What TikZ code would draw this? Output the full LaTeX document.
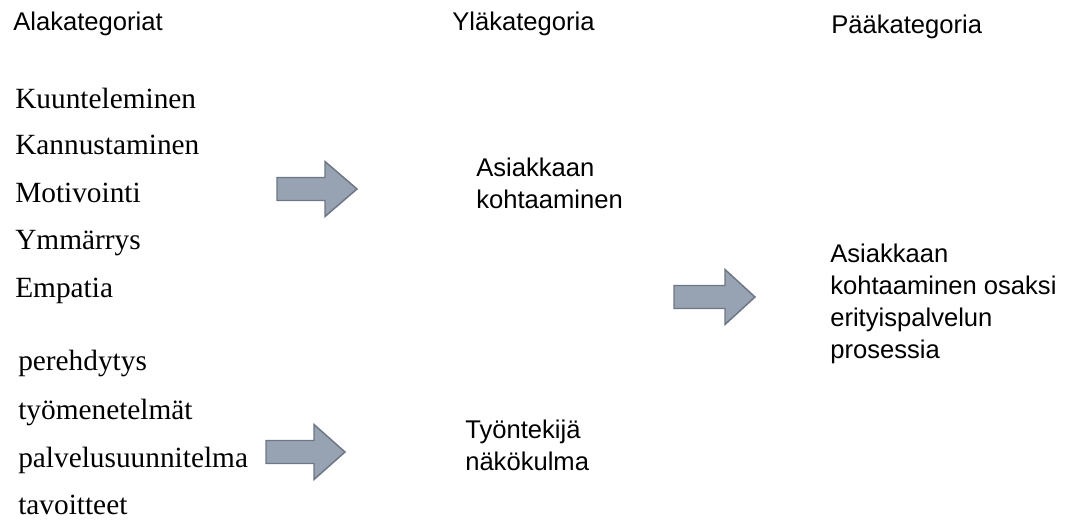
\documentclass[tikz,border=0pt]{standalone}
\usepackage{fontspec}
\setmainfont{Liberation Serif}
\setsansfont{Liberation Sans}
\usetikzlibrary{positioning, calc}
\definecolor{arrowfill}{RGB}{151, 163, 179}
\definecolor{arrowline}{RGB}{108, 118, 132}

\tikzset{
  head/.style={anchor=base west, font=\sffamily\fontsize{19.2}{24}\selectfont, inner sep=0pt},
  item/.style={anchor=base west, font=\fontsize{22}{26}\selectfont, inner sep=0pt},
  category/.style={anchor=base west, font=\sffamily\fontsize{19.2}{24}\selectfont, inner sep=0pt, align=left},
  blockarrow/.style={draw=arrowline, fill=arrowfill, line width=1.1pt, line join=miter}
}
% block arrow: #1 = left middle point, #2 = shaft length, #3 = head length
\newcommand{\blockarrow}[3]{%
  \draw[blockarrow] ($#1+(0,-11.5)$) -- ++(#2,0) -- ++(0,-16) -- ++(#3,27.5)
    -- ++(-#3,27.5) -- ++(0,-16) -- ++(-#2,0) -- cycle;}

\begin{document}
\begin{tikzpicture}[x=0.75pt, y=-0.75pt]
        \useasboundingbox (0,0) rectangle (1065,522);

        % Headings
        \node[head] (sub) at (13,30) {Alakategoriat};
        \node[head] (upper) at (452,30) {Yläkategoria};
        \node[head] (main) at (831,33) {Pääkategoria};

        % Subcategories, first group
        \node[item] (k1) at (15,108) {Kuunteleminen};
        \node[item] (k2) at (15,154) {Kannustaminen};
        \node[item] (k3) at (15,202) {Motivointi};
        \node[item] (k4) at (15,249) {Ymmärrys};
        \node[item] (k5) at (15,297) {Empatia};

        % Subcategories, second group
        \node[item] (t1) at (18,370) {perehdytys};
        \node[item] (t2) at (18,419) {työmenetelmät};
        \node[item] (t3) at (18,467) {palvelusuunnitelma};
        \node[item] (t4) at (18,514) {tavoitteet};

        % Upper categories (base = last line)
        \node[category] (meet) at (476,208) {Asiakkaan\\kohtaaminen};
        \node[category] (worker) at (465,470) {Työntekijä\\näkökulma};

        % Main category
        \node[category] (process) at (830,358) {Asiakkaan\\kohtaaminen osaksi\\erityispalvelun\\prosessia};

        % Arrows
        \blockarrow{(277,189)}{48}{32}
        \blockarrow{(266,452)}{48}{31}
        \blockarrow{(674,297)}{51}{30}
\end{tikzpicture}
\end{document}
